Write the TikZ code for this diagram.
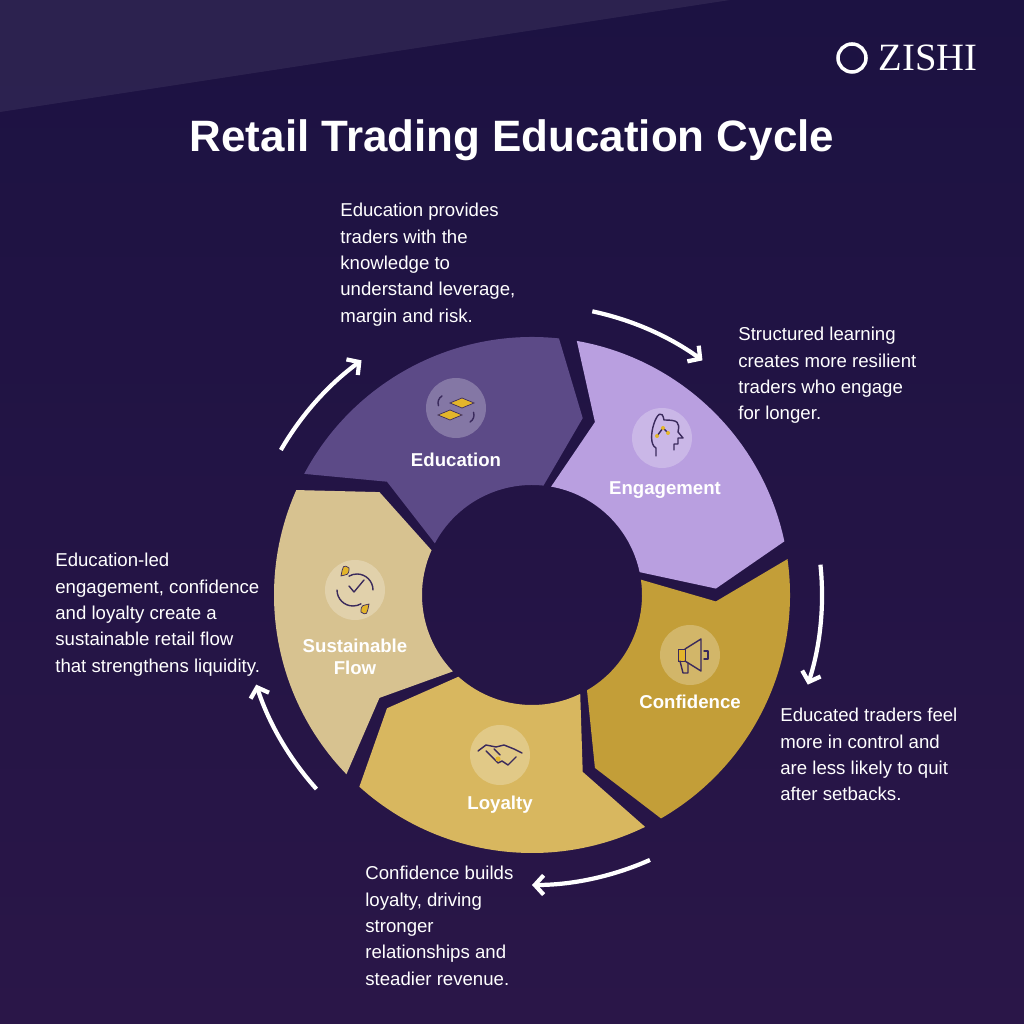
\documentclass[tikz,border=0pt]{standalone}
\usepackage{fontspec}
\setmainfont{Liberation Sans}
\newfontfamily\logofont{Liberation Serif}
\usetikzlibrary{arrows.meta,calc}
\definecolor{bgdark}{HTML}{1C1242}
\definecolor{bgdeep}{HTML}{2A1648}
\definecolor{segedu}{HTML}{5C4A87}
\definecolor{segeng}{HTML}{B99FE0}
\definecolor{segconf}{HTML}{C39E38}
\definecolor{segloy}{HTML}{D8B75F}
\definecolor{segsus}{HTML}{D7C290}
\definecolor{icongold}{HTML}{E3B52A}
\definecolor{iconline}{HTML}{3A2A5C}
\tikzset{
  seglabel/.style={text=white, font=\bfseries\fontsize{10.6}{12.5}\selectfont, align=center},
  bodytext/.style={text=white, font=\fontsize{10.6}{15}\selectfont, align=left, anchor=north west, inner sep=0pt},
  cyclearrow/.style={white, line width=2.4pt, -{Straight Barb[length=5pt,width=11pt]}},
  iconbg/.style={circle, minimum size=1.2cm, fill=white, fill opacity=0.25, inner sep=0pt},
  iconstroke/.style={iconline, line width=0.8pt, line cap=round, line join=round},
}
% segment: hi angle, lo angle, colour
\newcommand{\cycseg}[3]{%
  \fill[#3] (#1-2:258) arc[start angle=#1-2, end angle=#2+2, radius=258]
    -- (#2+2-10:184) -- (#2+2:110) arc[start angle=#2+2, end angle=#1-2, radius=110]
    -- (#1-2-10:184) -- cycle;}
\begin{document}
\begin{tikzpicture}[x=0.02cm, y=0.02cm]
  % background
  \shade[top color=bgdark, bottom color=bgdeep] (0,0) rectangle (1024,1024);
  \fill[white, opacity=0.07] (0,1024) -- (730,1024) -- (0,912) -- cycle;
  \useasboundingbox (0,0) rectangle (1024,1024);

  % logo
  \node[text=white, font=\logofont\fontsize{22}{22}\selectfont] (logo) at (928,966) {ZISHI};
  \draw[white, line width=2pt] (852,966) circle (14);
  \fill[bgdark] (852,966) circle (6);

  % title
  \node[text=white, font=\bfseries\fontsize{25}{30}\selectfont] (title) at (512,884) {Retail Trading Education Cycle};

  % ring
  \begin{scope}[shift={(532,429)}]
    \cycseg{154}{82}{segedu}
    \cycseg{82}{10}{segeng}
    \cycseg{10}{-62}{segconf}
    \cycseg{-62}{-134}{segloy}
    \cycseg{-134}{-206}{segsus}

    % arrows
    \foreach \a in {154,82,10,-62,-134}
      \draw[cyclearrow] (\a-4:290) arc[start angle=\a-4, end angle=\a-28, radius=290];
  \end{scope}

  % icons
  \node[iconbg] (iconedu) at (456,616) {};
  \node[iconbg] (iconeng) at (662,586) {};
  \node[iconbg] (iconconf) at (690,369) {};
  \node[iconbg] (iconloy) at (500,269) {};
  \node[iconbg] (iconsus) at (355,434) {};

  % education icon
  \fill[icongold, draw=iconline] ($(iconedu)+(6,10)$) -- ++(12,-5) -- ++(-12,-5) -- ++(-12,5) -- cycle;
  \fill[icongold, draw=iconline] ($(iconedu)+(-6,-2)$) -- ++(12,-5) -- ++(-12,-5) -- ++(-12,5) -- cycle;
  \draw[iconstroke] ($(iconedu)+(-14,12)$) arc[start angle=120, end angle=200, radius=8];
  \draw[iconstroke] ($(iconedu)+(14,-14)$) arc[start angle=-60, end angle=20, radius=8];

  % engagement icon
  \draw[iconstroke] ($(iconeng)+(-6,-18)$) -- ++(0,8) .. controls ++(-12,6) and ++(-4,22) .. ++(8,28)
    .. controls ++(14,0) and ++(2,10) .. ++(14,-12) -- ++(5,-6) -- ++(-5,0) -- ++(0,-6) -- ++(-4,0) -- ++(0,-6);
  \draw[iconstroke] ($(iconeng)+(-5,2)$) -- ++(6,8) -- ++(5,-5);
  \foreach \px/\py in {-5/2,1/10,6/5} \fill[icongold] ($(iconeng)+(\px,\py)$) circle (2);

  % confidence icon
  \fill[icongold, draw=iconline] ($(iconconf)+(-12,-6)$) rectangle ++(7,12);
  \draw[iconstroke] ($(iconconf)+(-5,6)$) -- ++(16,10) -- ++(0,-32) -- ++(-16,10);
  \draw[iconstroke] ($(iconconf)+(-10,-6)$) -- ++(3,-12) -- ++(5,0) -- ++(0,10);
  \draw[iconstroke] ($(iconconf)+(14,4)$) -- ++(4,0) -- ++(0,-8) -- ++(-4,0);

  % loyalty icon
  \draw[iconstroke] ($(iconloy)+(-22,4)$) -- ++(8,6) -- ++(10,-2) -- ++(8,2) -- ++(10,-4) -- ++(8,-4);
  \draw[iconstroke] ($(iconloy)+(-14,4)$) -- ++(12,-12) -- ++(4,2) -- ++(6,-4) -- ++(8,8);
  \draw[iconstroke] ($(iconloy)+(-6,6)$) -- ++(6,-6);
  \fill[icongold] ($(iconloy)+(-2,-4)$) circle (2.5);

  % sustainable icon
  \draw[iconstroke] ($(iconsus)+(-6,4)$) -- ++(5,-6) -- ++(10,12);
  \draw[iconstroke] ($(iconsus)+(-18,0)$) arc[start angle=180, end angle=300, radius=16];
  \draw[iconstroke] ($(iconsus)+(18,0)$) arc[start angle=0, end angle=120, radius=16];
  \fill[icongold, draw=iconline] ($(iconsus)+(-14,14)$) .. controls ++(2,10) and ++(-6,4) .. ++(8,8) .. controls ++(0,-8) and ++(6,2) .. cycle;
  \fill[icongold, draw=iconline] ($(iconsus)+(14,-14)$) .. controls ++(-2,-10) and ++(6,-4) .. ++(-8,-8) .. controls ++(0,8) and ++(-6,-2) .. cycle;

  % segment labels
  \node[seglabel] (lbledu) at (456,564) {Education};
  \node[seglabel] (lbleng) at (665,534) {Engagement};
  \node[seglabel] (lblconf) at (690,322) {Confidence};
  \node[seglabel] (lblloy) at (500,219) {Loyalty};
  \node[seglabel] (lblsus) at (355,367) {Sustainable\\Flow};

  % descriptions
  \node[bodytext] (txtedu) at (340,821) {Education provides\\traders with the\\knowledge to\\understand leverage,\\margin and risk.};
  \node[bodytext] (txteng) at (738,697) {Structured learning\\creates more resilient\\traders who engage\\for longer.};
  \node[bodytext] (txtconf) at (780,316) {Educated traders feel\\more in control and\\are less likely to quit\\after setbacks.};
  \node[bodytext] (txtloy) at (365,158) {Confidence builds\\loyalty, driving\\stronger\\relationships and\\steadier revenue.};
  \node[bodytext] (txtsus) at (55,471) {Education-led\\engagement, confidence\\and loyalty create a\\sustainable retail flow\\that strengthens liquidity.};
\end{tikzpicture}
\end{document}
